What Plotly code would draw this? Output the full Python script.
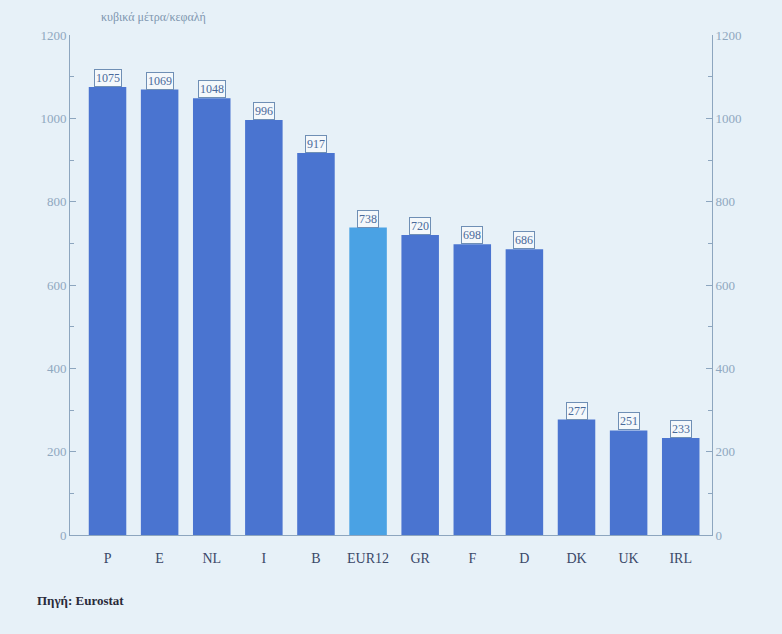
import plotly.graph_objects as go

categories = ["P", "E", "NL", "I", "B", "EUR12", "GR", "F", "D", "DK", "UK", "IRL"]
values = [1075, 1069, 1048, 996, 917, 738, 720, 698, 686, 277, 251, 233]
highlight = "EUR12"
tick_vals = [0, 200, 400, 600, 800, 1000, 1200]

bg = "#e7f1f8"
bar_col = "#4a74d0"
hi_col = "#4aa2e4"
axis_col = "#8da6bf"
tick_font = dict(family="Liberation Serif", size=13, color="#8fa8c0")

colors = [hi_col if c == highlight else bar_col for c in categories]

fig = go.Figure()
fig.add_trace(go.Bar(x=categories, y=values, marker=dict(color=colors, line=dict(width=0)),
                     width=0.72, showlegend=False, hoverinfo="x+y"))
fig.add_trace(go.Scatter(x=[categories[0]], y=[0], yaxis="y2", mode="markers",
                         marker=dict(opacity=0), showlegend=False, hoverinfo="skip"))

for c, v in zip(categories, values):
    fig.add_annotation(x=c, y=v, yref="y", text=str(v), showarrow=False, yshift=9,
                       font=dict(family="Liberation Serif", size=12, color="#4a6a9a"),
                       bgcolor="#f4f8fb", bordercolor="#6f8fb5", borderwidth=1, borderpad=1)

fig.add_annotation(x=0.045, y=1.036, xref="paper", yref="paper", text="κυβικά μέτρα/κεφαλή",
                   showarrow=False, xanchor="left", yanchor="middle",
                   font=dict(family="Liberation Serif", size=12, color="#7f97b0"))
fig.add_annotation(x=-0.055, y=-0.13, xref="paper", yref="paper", text="<b>Πηγή: Eurostat</b>",
                   showarrow=False, xanchor="left", yanchor="middle",
                   font=dict(family="Liberation Serif", size=13, color="#2a2a3a"))

axis_common = dict(range=[0, 1200], tickvals=tick_vals, ticks="inside", ticklen=6,
                   tickcolor=axis_col, showline=True, linecolor=axis_col, linewidth=1,
                   showgrid=False, zeroline=False, tickfont=tick_font,
                   minor=dict(ticks="inside", dtick=100, ticklen=4, tickcolor=axis_col))

fig.update_layout(
    width=782, height=634,
    margin=dict(l=70, r=70, t=35, b=99),
    paper_bgcolor=bg, plot_bgcolor=bg,
    bargap=0.28,
    xaxis=dict(range=[-0.72, 11.6], showline=True, linecolor=axis_col, linewidth=1,
               ticks="", showgrid=False, ticklabelstandoff=10,
               tickfont=dict(family="Liberation Serif", size=14, color="#3a4868")),
    yaxis=dict(side="left", **axis_common),
    yaxis2=dict(side="right", overlaying="y", **axis_common),
)

fig.write_html("out.html", config={"displayModeBar": False},
               post_script="document.body.style.margin='0';document.body.style.background='#e7f1f8';")
